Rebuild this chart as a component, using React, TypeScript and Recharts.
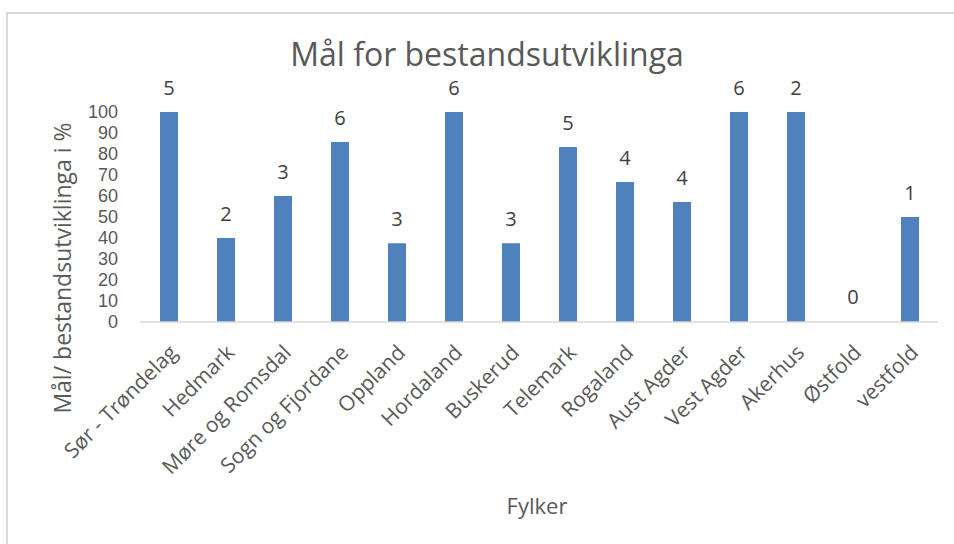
import React from "react";
import { Bar, BarChart, Cell, LabelList, XAxis, YAxis } from "recharts";

const fylker = [
  "Sør - Trøndelag",
  "Hedmark",
  "Møre og Romsdal",
  "Sogn og Fjordane",
  "Oppland",
  "Hordaland",
  "Buskerud",
  "Telemark",
  "Rogaland",
  "Aust Agder",
  "Vest Agder",
  "Akerhus",
  "Østfold",
  "vestfold",
];
const maalProsent = [100, 40, 60, 85.7, 37.5, 100, 37.5, 83.3, 66.7, 57.1, 100, 100, 0, 50];
const antall = [5, 2, 3, 6, 3, 6, 3, 5, 4, 4, 6, 2, 0, 1];
const yTicks = [0, 10, 20, 30, 40, 50, 60, 70, 80, 90, 100];

const data = fylker.map((name, i) => ({
  name,
  prosent: maalProsent[i],
  antall: antall[i],
}));

const FONT = '"Open Sans", sans-serif';
// tighter line box so the closely packed y ticks don't collide
const TICK_FONT = '"Liberation Sans", sans-serif';
const TEXT = "#595959";
const BLUE = "#4f81bd";

const RotatedTick = (props: any) => {
  const { x, y, payload } = props;
  return (
    <g transform={`translate(${x + 10},${y + 24})`}>
      <text
        textAnchor="end"
        transform="rotate(-45)"
        fill={TEXT}
        fontSize={21}
        fontFamily={FONT}
      >
        {payload.value}
      </text>
    </g>
  );
};

const CountLabel = (props: any) => {
  const { x, y, width, value } = props;
  return (
    <text
      x={x + width / 2}
      y={y - 17}
      textAnchor="middle"
      fill="#404040"
      fontSize={20}
      fontFamily={FONT}
    >
      {String(value)}
    </text>
  );
};

export default function App() {
  return (
    <div
      style={{
        position: "fixed",
        left: 0,
        top: 0,
        width: 954,
        height: 544,
        overflow: "hidden",
        background: "#fff",
        fontFamily: FONT,
      }}
    >
      <div
        style={{
          position: "absolute",
          left: 6,
          top: 12,
          width: 1000,
          height: 600,
          border: "2px solid #d9d9d9",
        }}
      />
      <div style={{ position: "absolute", left: 0, top: 0 }}>
        <BarChart
          width={954}
          height={544}
          data={data}
          margin={{ top: 112, right: 16, bottom: 0, left: 0 }}
        >
          <XAxis
            dataKey="name"
            height={222}
            interval={0}
            tickLine={false}
            axisLine={{ stroke: "#d9d9d9", strokeWidth: 1.5 }}
            tick={<RotatedTick />}
          />
          <YAxis
            width={140}
            domain={[0, 100]}
            ticks={yTicks}
            interval={0}
            axisLine={false}
            tickLine={false}
            tickSize={0}
            tickMargin={22}
            tick={{ fill: TEXT, fontSize: 18, fontFamily: TICK_FONT }}
          />
          {/* minPointSize keeps the empty Østfold bar in the label list; its cell is transparent */}
          <Bar dataKey="prosent" fill={BLUE} barSize={18} minPointSize={1} isAnimationActive={false}>
            {data.map((d) => (
              <Cell key={d.name} fill={d.prosent === 0 ? "transparent" : BLUE} />
            ))}
            <LabelList dataKey="antall" content={<CountLabel />} />
          </Bar>
        </BarChart>
      </div>
      <div
        style={{
          position: "absolute",
          left: 487,
          top: 38,
          transform: "translateX(-50%)",
          fontSize: 32,
          lineHeight: 1,
          color: TEXT,
          whiteSpace: "nowrap",
        }}
      >
        Mål for bestandsutviklinga
      </div>
      <div
        style={{
          position: "absolute",
          left: 62,
          top: 268,
          transform: "translate(-50%, -50%) rotate(-90deg)",
          fontSize: 23,
          lineHeight: 1,
          color: TEXT,
          whiteSpace: "nowrap",
        }}
      >
        Mål/ bestandsutviklinga i %
      </div>
      <div
        style={{
          position: "absolute",
          left: 537,
          top: 505,
          transform: "translate(-50%, -50%)",
          fontSize: 22,
          lineHeight: 1,
          color: TEXT,
          whiteSpace: "nowrap",
        }}
      >
        Fylker
      </div>
    </div>
  );
}
